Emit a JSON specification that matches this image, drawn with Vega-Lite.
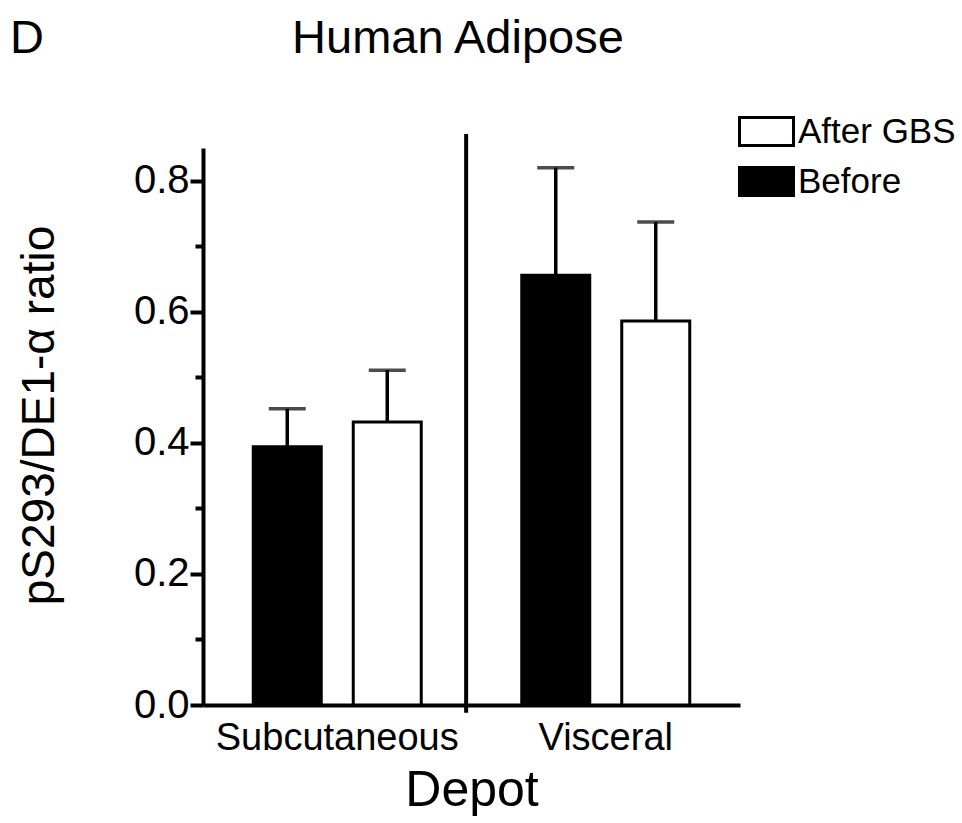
{
  "$schema": "https://vega.github.io/schema/vega-lite/v6.json",
  "autosize": "none",
  "padding": {"left": 203, "top": 148, "right": 222, "bottom": 118},
  "width": 537,
  "height": 557,
  "title": {
    "text": "D\u00a0\u00a0\u00a0\u00a0\u00a0\u00a0\u00a0\u00a0\u00a0\u00a0\u00a0\u00a0\u00a0\u00a0\u00a0\u00a0\u00a0\u00a0\u00a0Human Adipose",
    "anchor": "start",
    "frame": "group",
    "dx": -193,
    "offset": 40,
    "fontSize": 47,
    "fontWeight": "normal",
    "font": "Liberation Sans",
    "color": "black"
  },
  "data": {
    "values": [
      {"Depot": "Subcutaneous", "Group": "Before", "mean": 0.394, "upper": 0.452},
      {"Depot": "Subcutaneous", "Group": "After GBS", "mean": 0.432, "upper": 0.511},
      {"Depot": "Visceral", "Group": "Before", "mean": 0.656, "upper": 0.820},
      {"Depot": "Visceral", "Group": "After GBS", "mean": 0.586, "upper": 0.737}
    ]
  },
  "encoding": {
    "x": {
      "field": "Depot",
      "type": "nominal",
      "scale": {"paddingInner": 0, "paddingOuter": 0},
      "axis": {
        "title": "Depot",
        "labelAngle": 0,
        "labelLimit": 0,
        "ticks": false,
        "domainWidth": 4,
        "domainColor": "black",
        "labelFontSize": 38,
        "labelColor": "black",
        "labelFont": "Liberation Sans",
        "labelPadding": 14,
        "titleFontSize": 50,
        "titleFontWeight": "normal",
        "titleFont": "Liberation Sans",
        "titleColor": "black",
        "titlePadding": 8
      }
    }
  },
  "layer": [
    {
      "mark": {"type": "bar", "stroke": "black", "strokeWidth": 3},
      "encoding": {
        "xOffset": {"field": "Group", "type": "nominal", "scale": {"domain": ["Before", "After GBS"], "paddingInner": 0.32, "paddingOuter": 0.5025}},
        "y": {
          "field": "mean",
          "type": "quantitative",
          "title": "pS293/DE1-α ratio",
          "scale": {"domain": [0, 0.85], "nice": false},
          "axis": {
            "values": [0, 0.1, 0.2, 0.3, 0.4, 0.5, 0.6, 0.7, 0.8],
            "labelExpr": "round(datum.value*10) % 2 === 0 ? format(datum.value, '.1f') : ''",
            "tickSize": {"condition": {"test": "round(datum.value*10) % 2 === 0", "value": 13}, "value": 8},
            "tickWidth": 4,
            "tickColor": "black",
            "domainWidth": 4,
            "domainColor": "black",
            "grid": false,
            "labelFontSize": 40,
            "labelColor": "black",
            "labelFont": "Liberation Sans",
            "labelPadding": 1,
            "titleFontSize": 46,
            "titleFontWeight": "normal",
            "titleFont": "Liberation Sans",
            "titleColor": "black",
            "titlePadding": 70,
            "titleY": 267
          }
        },
        "fill": {
          "field": "Group",
          "type": "nominal",
          "scale": {"domain": ["After GBS", "Before"], "range": ["white", "black"]},
          "legend": {
            "title": null,
            "orient": "none",
            "legendX": 535,
            "legendY": -45,
            "padding": 0,
            "symbolType": "M-1,-0.52H1V0.52H-1Z",
            "symbolSize": 2916,
            "symbolStrokeColor": "black",
            "symbolStrokeWidth": 3,
            "labelFontSize": 35,
            "labelFont": "Liberation Sans",
            "labelColor": "black",
            "labelOffset": 3,
            "rowPadding": 1
          }
        }
      }
    },
    {
      "mark": {"type": "rule", "strokeWidth": 3.5, "color": "black"},
      "encoding": {
        "xOffset": {"field": "Group", "type": "nominal"},
        "y": {"field": "mean", "type": "quantitative", "title": "pS293/DE1-α ratio", "scale": {"domain": [0, 0.85], "nice": false}},
        "y2": {"field": "upper"}
      }
    },
    {
      "mark": {"type": "tick", "size": 37, "thickness": 3.5, "color": "black", "orient": "horizontal"},
      "encoding": {
        "xOffset": {"field": "Group", "type": "nominal"},
        "y": {"field": "upper", "type": "quantitative", "title": "pS293/DE1-α ratio", "scale": {"domain": [0, 0.85], "nice": false}}
      }
    },
    {
      "data": {"values": [{"Depot": "Subcutaneous", "lo": -0.012, "hi": 0.8715}]},
      "mark": {"type": "rule", "strokeWidth": 4, "color": "black"},
      "encoding": {
        "x": {"field": "Depot", "type": "nominal", "bandPosition": 0.98},
        "y": {"field": "lo", "type": "quantitative", "title": "pS293/DE1-α ratio", "scale": {"domain": [0, 0.85], "nice": false}},
        "y2": {"field": "hi"}
      }
    }
  ],
  "config": {
    "view": {"stroke": null},
    "font": "Liberation Sans"
  }
}
